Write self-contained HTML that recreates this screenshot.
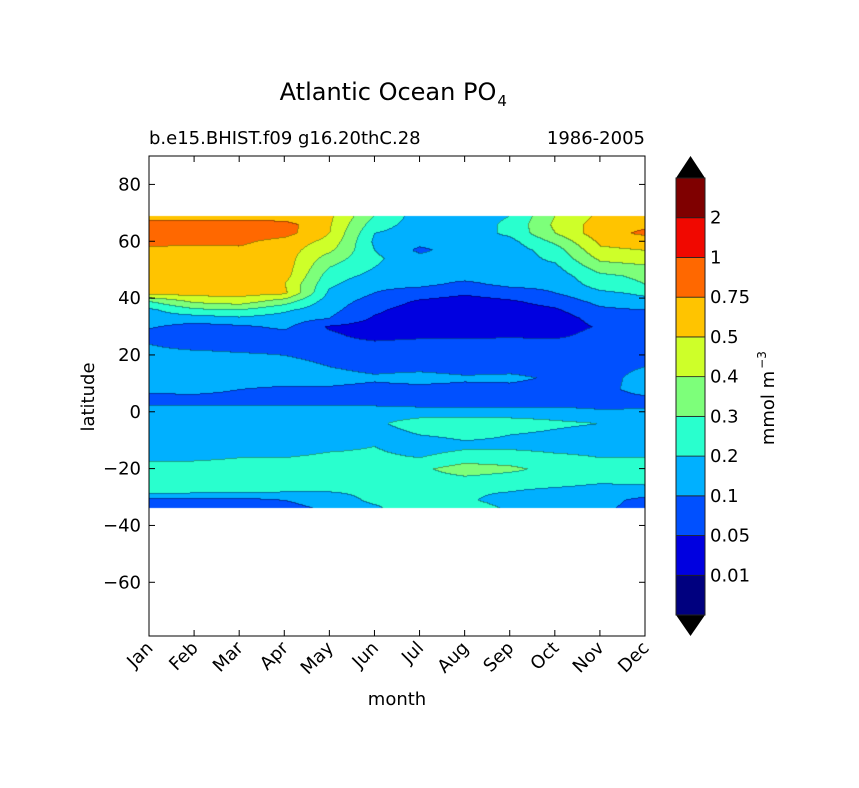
<!DOCTYPE html>
<html><head><meta charset="utf-8">
<style>
body{margin:0;background:#fff;}
#wrap{position:relative;width:859px;height:788px;overflow:hidden;font-family:"Liberation Sans","DejaVu Sans",sans-serif;}
svg text{font-family:"DejaVu Sans","Liberation Sans",sans-serif;}
canvas{position:absolute;left:0;top:0;}
</style></head>
<body>
<div id="wrap">
<canvas id="cv" width="859" height="788"></canvas>
<svg id="sv" width="859" height="788" style="position:absolute;left:0;top:0"></svg>
</div>
<script>
const months=["Jan","Feb","Mar","Apr","May","Jun","Jul","Aug","Sep","Oct","Nov","Dec"];
const lats=[69,66,63,60,57,54,51,48,45,42,39,36,33,30,27,24,20,16,12,8,4,0,-4,-8,-12,-16,-20,-24,-28,-31,-34];
const levels=[0.01,0.05,0.1,0.2,0.3,0.4,0.5,0.75,1,2];
const levelLabels=["0.01","0.05","0.1","0.2","0.3","0.4","0.5","0.75","1","2"];
const yTicks=[80,60,40,20,0,-20,-40,-60];
const bandColors=["#00007f","#0000e0","#0050ff","#00b0ff","#29ffce","#7dff7a","#ceff29","#ffc400","#ff6800","#f10800","#7f0000"];
// values[month][latIndex]
const jan=[0.62,0.9,0.9,0.9,0.62,0.62,0.62,0.62,0.55,0.6,0.3,0.18,0.15,0.11,0.08,0.1,0.15,0.15,0.15,0.12,0.08,0.15,0.15,0.15,0.15,0.17,0.25,0.22,0.24,0.08,0.07];
const feb=[0.62,0.9,0.9,0.85,0.62,0.62,0.62,0.62,0.62,0.6,0.42,0.28,0.15,0.08,0.07,0.07,0.15,0.15,0.15,0.13,0.08,0.15,0.15,0.15,0.15,0.18,0.25,0.25,0.22,0.08,0.07];
const mar=[0.62,0.9,0.9,0.8,0.7,0.62,0.62,0.62,0.62,0.6,0.45,0.3,0.18,0.09,0.07,0.07,0.12,0.15,0.15,0.1,0.08,0.15,0.15,0.15,0.15,0.2,0.25,0.23,0.22,0.08,0.08];
const apr=[0.6,0.85,0.85,0.65,0.62,0.62,0.62,0.6,0.5,0.55,0.35,0.22,0.15,0.12,0.08,0.075,0.1,0.15,0.15,0.09,0.08,0.15,0.15,0.15,0.15,0.2,0.25,0.25,0.2,0.1,0.08];
const may=[0.55,0.52,0.5,0.47,0.42,0.35,0.3,0.25,0.22,0.18,0.15,0.13,0.1,0.045,0.06,0.07,0.08,0.1,0.15,0.09,0.08,0.15,0.15,0.15,0.18,0.22,0.25,0.26,0.2,0.15,0.12];
const jun=[0.3,0.25,0.2,0.18,0.2,0.22,0.2,0.17,0.12,0.1,0.08,0.06,0.045,0.03,0.035,0.06,0.07,0.08,0.12,0.08,0.08,0.15,0.18,0.15,0.2,0.22,0.25,0.25,0.22,0.22,0.18];
const jul=[0.15,0.15,0.15,0.13,0.09,0.13,0.13,0.13,0.12,0.08,0.045,0.03,0.03,0.03,0.04,0.07,0.07,0.08,0.15,0.08,0.07,0.15,0.25,0.2,0.15,0.2,0.28,0.25,0.22,0.22,0.28];
const aug=[0.15,0.15,0.15,0.15,0.15,0.15,0.14,0.13,0.09,0.06,0.03,0.03,0.03,0.03,0.04,0.07,0.07,0.07,0.12,0.08,0.07,0.15,0.25,0.22,0.18,0.25,0.35,0.27,0.22,0.22,0.28];
const sep=[0.2,0.22,0.22,0.17,0.15,0.15,0.15,0.14,0.12,0.08,0.045,0.03,0.03,0.03,0.045,0.07,0.07,0.075,0.13,0.08,0.07,0.15,0.25,0.2,0.18,0.25,0.32,0.25,0.2,0.15,0.18];
const oct=[0.4,0.42,0.4,0.32,0.25,0.22,0.18,0.15,0.12,0.1,0.07,0.045,0.03,0.03,0.04,0.07,0.07,0.07,0.09,0.07,0.07,0.15,0.22,0.18,0.17,0.22,0.27,0.25,0.17,0.15,0.15];
const nov=[0.55,0.62,0.65,0.55,0.48,0.42,0.35,0.28,0.25,0.18,0.13,0.09,0.07,0.055,0.07,0.08,0.08,0.08,0.08,0.08,0.07,0.12,0.2,0.15,0.17,0.2,0.25,0.22,0.15,0.15,0.13];
const dec=[0.6,0.7,0.8,0.62,0.5,0.45,0.38,0.32,0.3,0.22,0.17,0.1,0.08,0.07,0.07,0.07,0.08,0.1,0.14,0.15,0.08,0.12,0.15,0.15,0.17,0.2,0.25,0.22,0.17,0.08,0.07];
const values=[jan,feb,mar,apr,may,jun,jul,aug,sep,oct,nov,dec];

const X0=149,X1=645,Y0=156,Y1=636,LATMAX=90,LATMIN=-78.9;
const xScale=i=>X0+(X1-X0)*i/(months.length-1);
const yScale=l=>Y0+(LATMAX-l)/(LATMAX-LATMIN)*(Y1-Y0);
function toIdx(v){
  if(v<levels[0]) return v/levels[0];
  for(let k=0;k<levels.length-1;k++){ if(v<levels[k+1]) return k+1+(v-levels[k])/(levels[k+1]-levels[k]); }
  return levels.length+ (v-levels[levels.length-1]);
}
function hex(c){return [parseInt(c.slice(1,3),16),parseInt(c.slice(3,5),16),parseInt(c.slice(5,7),16)];}
const ctx=document.getElementById('cv').getContext('2d');
const idxGrid=values.map(col=>col.map(toIdx));
const xa=Math.round(xScale(0)),xb=Math.round(xScale(months.length-1));
const ya=Math.round(yScale(lats[0])),yb=Math.round(yScale(lats[lats.length-1]));
const W=xb-xa,H=yb-ya;
const img=ctx.createImageData(W,H);
const bandMap=new Int16Array(W*H);
function latToRow(l){
  for(let r=0;r<lats.length-1;r++){ if(l<=lats[r]&&l>=lats[r+1]) return r+(lats[r]-l)/(lats[r]-lats[r+1]); }
  return l>lats[0]?0:lats.length-1;
}
for(let py=0;py<H;py++){
  const lat=LATMAX-(ya+py+0.5-Y0)/(Y1-Y0)*(LATMAX-LATMIN);
  const rf=latToRow(lat);const r0=Math.min(Math.floor(rf),lats.length-2);const tr=rf-r0;
  for(let px=0;px<W;px++){
    const mf=(xa+px+0.5-X0)/(X1-X0)*(months.length-1);
    const m0=Math.max(0,Math.min(Math.floor(mf),months.length-2));const tm=mf-m0;
    const v=(1-tm)*((1-tr)*idxGrid[m0][r0]+tr*idxGrid[m0][r0+1])+tm*((1-tr)*idxGrid[m0+1][r0]+tr*idxGrid[m0+1][r0+1]);
    bandMap[py*W+px]=Math.max(0,Math.min(bandColors.length-1,Math.floor(v)));
  }
}
const rgb=bandColors.map(hex);
for(let i=0;i<W*H;i++){
  const px=i%W,py=(i/W)|0;let c=rgb[bandMap[i]];
  const b=bandMap[i];
  if((px>0&&bandMap[i-1]!==b)||(py>0&&bandMap[i-W]!==b)){c=c.map(x=>x*0.65);}
  img.data[i*4]=c[0];img.data[i*4+1]=c[1];img.data[i*4+2]=c[2];img.data[i*4+3]=255;
}
ctx.putImageData(img,xa,ya);

const NS="http://www.w3.org/2000/svg";const sv=document.getElementById('sv');
function mk(tag,attrs,txt){const e=document.createElementNS(NS,tag);for(const k in attrs)e.setAttribute(k,attrs[k]);if(txt!==undefined)e.textContent=txt;sv.appendChild(e);return e;}
let e;
e=mk('rect',{x:X0,y:Y0,width:X1-X0,height:Y1-Y0,fill:'none',stroke:'#000','stroke-width':1});


yTicks.forEach(t=>{const y=yScale(t);
  e=mk('line',{x1:X0,x2:X0+6,y1:y,y2:y,stroke:'#000'});
  
  
  e=mk('line',{x1:X1,x2:X1-6,y1:y,y2:y,stroke:'#000'});
  
  
  e=mk('text',{x:X0-8,y:y+6,'text-anchor':'end','font-size':18},t<0?'\u2212'+(-t):String(t));
  
  
});
months.forEach((m,i)=>{const x=xScale(i);
  e=mk('line',{x1:x,x2:x,y1:Y1,y2:Y1-6,stroke:'#000'});
  
  
  e=mk('line',{x1:x,x2:x,y1:Y0,y2:Y0+6,stroke:'#000'});
  
  
  e=mk('text',{x:x+5,y:Y1+13,'text-anchor':'end','font-size':18,transform:`rotate(-45 ${x+5} ${Y1+13})`},m);
  
  
});
e=mk('text',{x:397,y:705,'text-anchor':'middle','font-size':18},'month');


e=mk('text',{x:94,y:397,'text-anchor':'middle','font-size':18,transform:'rotate(-90 94 397)'},'latitude');


e=mk('text',{x:388,y:100,'text-anchor':'middle','font-size':24},'Atlantic Ocean PO');


const tb=e.getBBox();
e=mk('text',{x:tb.x+tb.width+1,y:106,'font-size':15},'4');


e=mk('text',{x:149,y:144,'font-size':18},'b.e15.BHIST.f09 g16.20thC.28');


e=mk('text',{x:645,y:144,'font-size':18,'text-anchor':'end'},'1986-2005');


const CX=676,CW=29,CT=178,CB=615;const bh=(CB-CT)/bandColors.length;
bandColors.forEach((c,i)=>{
  e=mk('rect',{x:CX,y:CB-(i+1)*bh,width:CW,height:bh,fill:c,stroke:'#222','stroke-width':0.8});
  
  
});
e=mk('polygon',{points:`${CX},${CT} ${CX+CW},${CT} ${CX+CW/2},156`,fill:'#000'});


e=mk('polygon',{points:`${CX},${CB} ${CX+CW},${CB} ${CX+CW/2},636`,fill:'#000'});


e=mk('rect',{x:CX,y:CT,width:CW,height:CB-CT,fill:'none',stroke:'#222','stroke-width':1});


levelLabels.forEach((l,i)=>{const y=CB-(i+1)*bh;
  e=mk('text',{x:710,y:y+6,'font-size':18},l);
  
  
});
e=mk('text',{x:774,y:408,'text-anchor':'middle','font-size':18,transform:'rotate(-90 774 408)'},'mmol m');


const lb=e.getBBox();
const ey=408-lb.width/2-2;
e=mk('text',{x:766,y:ey,'font-size':12,transform:`rotate(-90 766 ${ey})`},'\u22123');


</script>
</body></html>
